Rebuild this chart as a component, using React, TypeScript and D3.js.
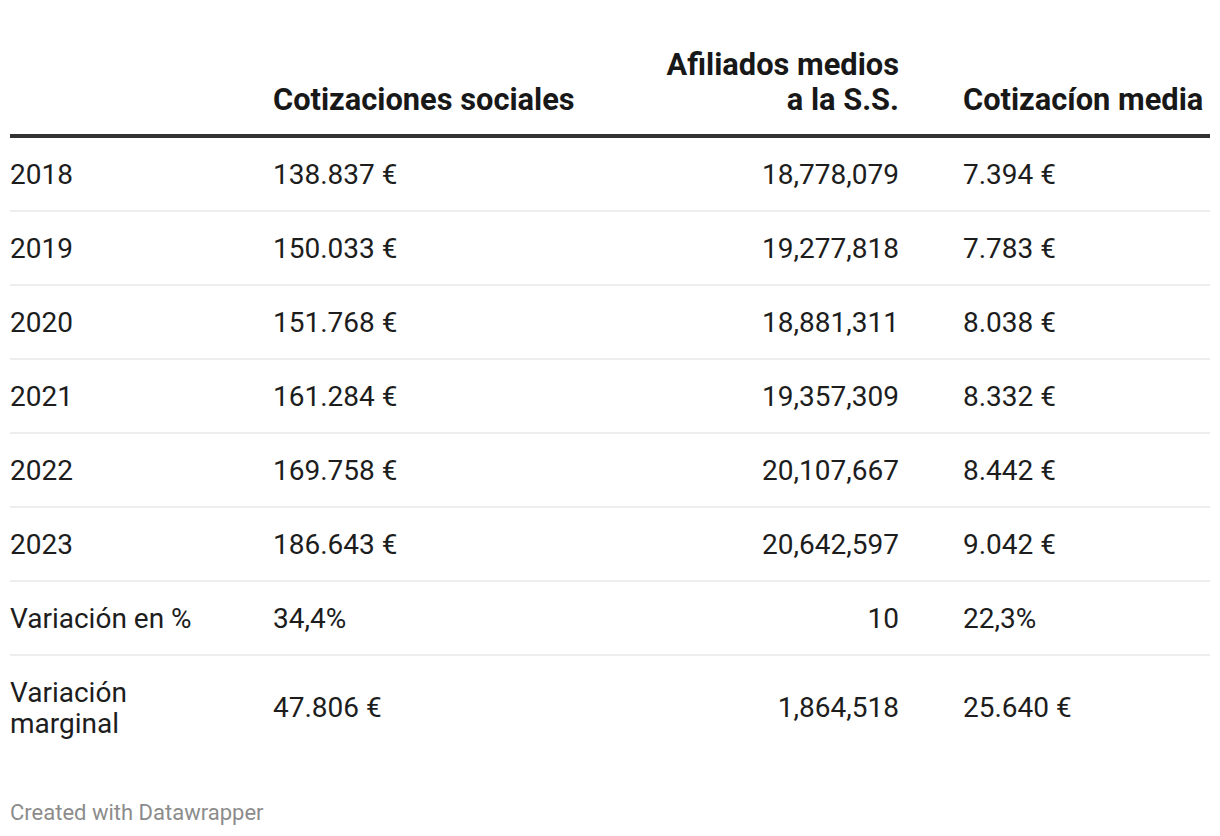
import React from "react";
import * as d3 from "d3";

const headers = ["", "Cotizaciones sociales", "Afiliados medios\na la S.S.", "Cotizacíon media"];
const rowLabels = ["2018", "2019", "2020", "2021", "2022", "2023", "Variación en %", "Variación\nmarginal"];
const cotizaciones = ["138.837 €", "150.033 €", "151.768 €", "161.284 €", "169.758 €", "186.643 €", "34,4%", "47.806 €"];
const afiliados = ["18,778,079", "19,277,818", "18,881,311", "19,357,309", "20,107,667", "20,642,597", "10", "1,864,518"];
const cotizacionMedia = ["7.394 €", "7.783 €", "8.038 €", "8.332 €", "8.442 €", "9.042 €", "22,3%", "25.640 €"];

const W = 1220;
const H = 836;
const left = 10;
const right = 1210;
const headerRuleY = 134;
const rowH = 74;
const lastRowH = 104;
const fontBody = 28;
const lineH = 31;

export default function App() {
  const n = rowLabels.length;
  const rowScale = d3.scaleLinear().domain([0, n - 1]).range([headerRuleY + 4, headerRuleY + 4 + rowH * (n - 1)]);
  const colX = [10, 273, 899, 963];
  const anchors = ["start", "start", "end", "start"];
  const cols = [rowLabels, cotizaciones, afiliados, cotizacionMedia];

  const renderCell = (text: string, x: number, cy: number, anchor: string, key: string) => {
    const lines = text.split("\n");
    const offset = ((lines.length - 1) * lineH) / 2;
    return (
      <text key={key} x={x} textAnchor={anchor as any} fontSize={fontBody} fill="#1d1d1d" fontFamily="Roboto">
        {lines.map((l, i) => (
          <tspan key={i} x={x} y={cy - offset + i * lineH + 10}>{l}</tspan>
        ))}
      </text>
    );
  };

  return (
    <svg width={W} height={H} style={{ position: "absolute", left: 0, top: 0, background: "#fff" }}>
      <rect width={W} height={H} fill="#fff" />
      {headers.map((h, ci) => {
        const lines = h.split("\n");
        return (
          <text key={"h" + ci} textAnchor={anchors[ci] as any} fontSize={30.8} fontWeight={700} fill="#181818" fontFamily="Roboto">
            {lines.map((l, i) => (
              <tspan key={i} x={colX[ci]} y={110 - (lines.length - 1 - i) * 35}>{l}</tspan>
            ))}
          </text>
        );
      })}
      <rect x={left} y={headerRuleY} width={right - left} height={4} fill="#333" />
      {rowLabels.map((_, ri) => {
        const top = rowScale(ri);
        const h = ri === n - 1 ? lastRowH : rowH - 2;
        const cy = top + h / 2 + (ri === n - 1 ? -1 : 0);
        return (
          <g key={"r" + ri}>
            {cols.map((c, ci) => renderCell(c[ri], colX[ci], cy, anchors[ci], ri + "-" + ci))}
            {ri < n - 1 && <rect x={left} y={top + rowH - 2} width={right - left} height={2} fill="#eeeeee" />}
          </g>
        );
      })}
      <text x={10} y={820} fontSize={22} fill="#8c8c8c" fontFamily="Roboto">Created with Datawrapper</text>
    </svg>
  );
}
